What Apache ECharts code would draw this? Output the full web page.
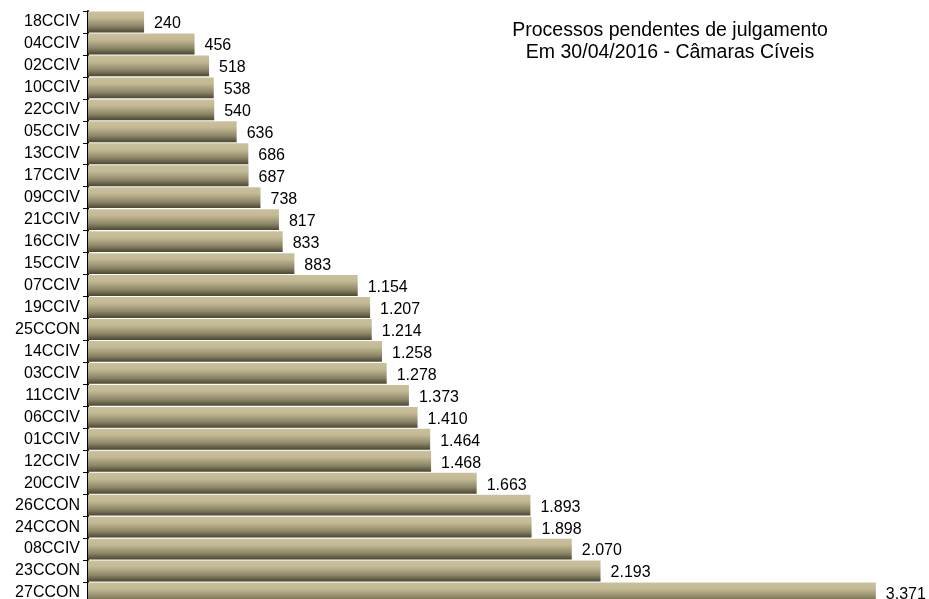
<!DOCTYPE html>
<html><head><meta charset="utf-8">
<script src="https://cdn.jsdelivr.net/npm/echarts@6/dist/echarts.min.js"></script>
<style>html,body{margin:0;padding:0;background:#fff;overflow:hidden}#c{width:929px;height:604px}</style>
</head><body><div id="c"></div>
<script>
var categories = ['18CCIV','04CCIV','02CCIV','10CCIV','22CCIV','05CCIV','13CCIV','17CCIV','09CCIV','21CCIV','16CCIV','15CCIV','07CCIV','19CCIV','25CCON','14CCIV','03CCIV','11CCIV','06CCIV','01CCIV','12CCIV','20CCIV','26CCON','24CCON','08CCIV','23CCON','27CCON'];
var values = [240,456,518,538,540,636,686,687,738,817,833,883,1154,1207,1214,1258,1278,1373,1410,1464,1468,1663,1893,1898,2070,2193,3371];
var titleLines = ['Processos pendentes de julgamento','Em 30/04/2016 - Câmaras Cíveis'];

function fmt(v){return String(v).replace(/\B(?=(\d{3})+(?!\d))/g,'.');}
var chart = echarts.init(document.getElementById('c'), null, {renderer:'canvas'});
chart.setOption({
  animation:false,
  title:{text:titleLines.join('\n'),left:665,top:14,textAlign:'center',
    textStyle:{fontFamily:'Liberation Sans, Arial',fontSize:19.5,fontWeight:'normal',color:'#000',lineHeight:22.5}},
  grid:{left:88,top:11,right:23,bottom:0,containLabel:false},
  xAxis:{type:'value',min:0,max:3500,show:false},
  yAxis:{type:'category',data:categories,inverse:true,
    axisLine:{lineStyle:{color:'#000',width:2}},
    axisTick:{show:true,length:5,lineStyle:{color:'#000',width:1}},
    axisLabel:{fontFamily:'Liberation Sans, Arial',fontSize:16,color:'#000',margin:8},
    splitLine:{show:false}},
  series:[{type:'bar',data:values,barCategoryGap:'5%',
    itemStyle:{color:new echarts.graphic.LinearGradient(0,0,0,1,[
      {offset:0,color:'#c9c19d'},{offset:0.3,color:'#c3ba94'},{offset:0.7,color:'#8d8667'},{offset:1,color:'#4b4634'}])},
    label:{show:true,position:'right',distance:10,offset:[0,2],formatter:function(p){return fmt(p.value);},
      fontFamily:'Liberation Sans, Arial',fontSize:16,color:'#000'}}]
});
</script></body></html>
